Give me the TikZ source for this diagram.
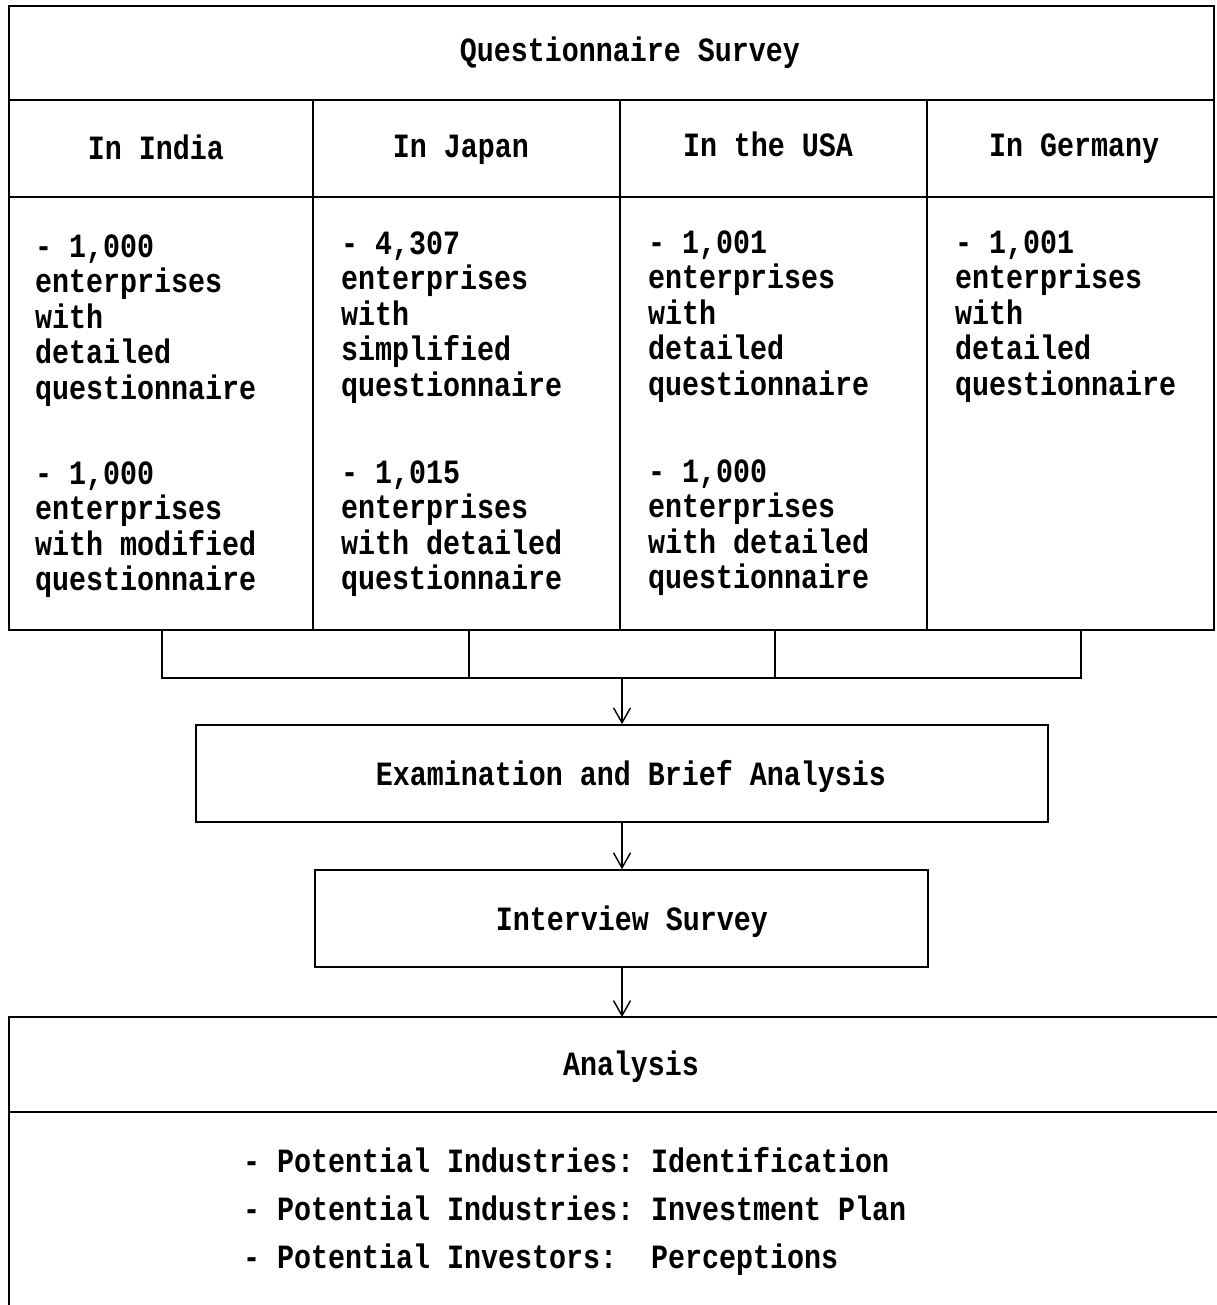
\documentclass[tikz,border=0pt]{standalone}
\usepackage{fontspec}
\usepackage{graphicx}
\usetikzlibrary{arrows.meta}
\newfontfamily\jmono{Liberation Mono}
\newcommand\sq[1]{\scalebox{0.8333}[1]{#1}}
\tikzset{
  frame/.style={line width=1.6pt},
  txt/.style={font=\jmono\bfseries\fontsize{34}{35.5}\selectfont\frenchspacing, inner sep=0pt},
  ctext/.style={txt, anchor=base},
  body/.style={txt, anchor=base west, align=left},
  box/.style={frame, draw, minimum width=#1, minimum height=97pt, inner sep=0pt},
  flow/.style={frame, -{Straight Barb[length=15pt,width=17pt,line width=1.4pt]}},
}
\begin{document}
\begin{tikzpicture}[x=1pt,y=-1pt]
\useasboundingbox (0,0) rectangle (1216,1305);
% top table
\draw[frame] (9,6) rectangle (1214,630);
\draw[frame] (9,100) -- (1214,100);
\draw[frame] (9,197) -- (1214,197);
\foreach \x in {313,620,927} \draw[frame] (\x,100) -- (\x,630);
\node[ctext] (qs) at (630,62) {\sq{Questionnaire Survey}};
\node[ctext] (h1) at (156,160) {\sq{In India}};
\node[ctext] (h2) at (461,158) {\sq{In Japan}};
\node[ctext] (h3) at (768,157) {\sq{In the USA}};
\node[ctext] (h4) at (1074,157) {\sq{In Germany}};
% column bodies (base anchor = baseline of last line)
\node[body] (c1a) at (35,399) {\sq{- 1,000}\\\sq{enterprises}\\\sq{with}\\\sq{detailed}\\\sq{questionnaire}};
\node[body] (c1b) at (35,590.5) {\sq{- 1,000}\\\sq{enterprises}\\\sq{with modified}\\\sq{questionnaire}};
\node[body] (c2a) at (341,396) {\sq{- 4,307}\\\sq{enterprises}\\\sq{with}\\\sq{simplified}\\\sq{questionnaire}};
\node[body] (c2b) at (341,589.5) {\sq{- 1,015}\\\sq{enterprises}\\\sq{with detailed}\\\sq{questionnaire}};
\node[body] (c3a) at (648,395) {\sq{- 1,001}\\\sq{enterprises}\\\sq{with}\\\sq{detailed}\\\sq{questionnaire}};
\node[body] (c3b) at (648,588.5) {\sq{- 1,000}\\\sq{enterprises}\\\sq{with detailed}\\\sq{questionnaire}};
\node[body] (c4a) at (955,395) {\sq{- 1,001}\\\sq{enterprises}\\\sq{with}\\\sq{detailed}\\\sq{questionnaire}};
% bracket
\draw[frame] (162,630) -- (162,678) -- (1081,678) -- (1081,630);
\foreach \x in {469,775} \draw[frame] (\x,630) -- (\x,678);
\coordinate (join) at (622,678);
% flow boxes
\node[box=852pt] (eba) at (622,773.5) {};
\node[ctext] (ebat) at (631,785) {\sq{Examination and Brief Analysis}};
\node[box=613pt] (intv) at (621.5,918.5) {};
\node[ctext] (intvt) at (632,930) {\sq{Interview Survey}};
% analysis box
\draw[frame] (1220,1017) -- (9,1017) -- (9,1312);
\draw[frame] (9,1112) -- (1220,1112);
\coordinate (antop) at (622,1017);
\node[ctext] (ant) at (631,1075) {\sq{Analysis}};
\node[txt, anchor=base west] (l1) at (243,1172) {\sq{- Potential Industries: Identification}};
\node[txt, anchor=base west] (l2) at (243,1220) {\sq{- Potential Industries: Investment Plan}};
\node[txt, anchor=base west] (l3) at (243,1268) {\sq{- Potential Investors:\ \ Perceptions}};
% arrows
\draw[flow] (join) -- (eba.north -| join);
\draw[flow] (eba.south -| join) -- (intv.north -| join);
\draw[flow] (intv.south -| join) -- (antop);
\end{tikzpicture}
\end{document}
